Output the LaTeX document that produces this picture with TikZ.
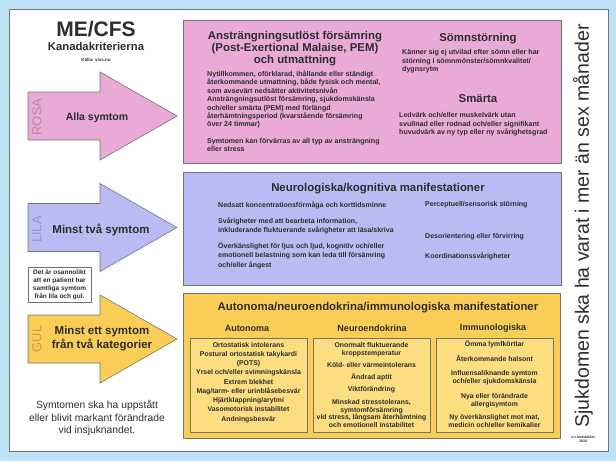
\documentclass[tikz,border=0pt]{standalone}
\usepackage{fontspec}
\setmainfont{Liberation Sans}
\usetikzlibrary{positioning}

\definecolor{bgblue}{RGB}{190,227,248}
\definecolor{rosafill}{RGB}{234,170,215}
\definecolor{lilafill}{RGB}{187,187,243}
\definecolor{gulfill}{RGB}{250,206,86}
\definecolor{gulsub}{RGB}{252,221,128}
\definecolor{framegray}{RGB}{115,115,115}
\definecolor{txt}{RGB}{45,45,45}
\definecolor{rosatag}{RGB}{178,138,162}
\definecolor{lilatag}{RGB}{148,148,198}
\definecolor{gultag}{RGB}{198,158,68}
\lineskiplimit=-100pt

\begin{document}
\begin{tikzpicture}[x=1pt, y=-1pt,
    panel/.style={draw=framegray, line width=0.6pt},
    critarrow/.style={draw=framegray, line width=0.6pt, line join=miter},
    heading/.style={font=\fontsize{11.4}{12}\selectfont\bfseries, text=txt, align=center, inner sep=0pt},
    subhead/.style={font=\fontsize{9}{10}\selectfont\bfseries, text=txt, inner sep=0pt},
    body/.style={font=\fontsize{7.1}{8.3}\selectfont\bfseries, text=txt, align=left, inner sep=0pt, anchor=north west},
    neurobody/.style={body, font=\fontsize{7}{9.3}\selectfont\bfseries},
    item/.style={font=\fontsize{6.9}{7.8}\selectfont\bfseries, text=txt, align=center, inner sep=0pt, anchor=north},
    tag/.style={font=\fontsize{13}{13}\selectfont, rotate=90, inner sep=0pt},
    arrowtext/.style={font=\fontsize{11.5}{14}\selectfont\bfseries, text=txt, align=center, inner sep=0pt}
]
\useasboundingbox (0,0) rectangle (616,461);
\fill[bgblue] (0,0) rectangle (616,461);
\draw[panel, fill=white] (9,9) rectangle (608,451);

% title block
\node[font=\fontsize{21}{22}\selectfont\bfseries, text=txt, inner sep=0pt] (title) at (96,29) {ME/CFS};
\node[font=\fontsize{11.3}{12}\selectfont\bfseries, text=txt, inner sep=0pt] (criteria) at (96,46.5) {Kanadakriterierna};
\node[font=\fontsize{4.5}{5}\selectfont\bfseries, text=txt, inner sep=0pt] (source) at (96,60) {Källa: viss.nu};

% arrows on the left
\foreach \ym/\col in {116/rosafill, 227.5/lilafill, 339/gulfill}
  \draw[critarrow, fill=\col] (28,{\ym-24}) -- (100,{\ym-24}) -- (100,{\ym-44}) -- (177,\ym)
    -- (100,{\ym+44}) -- (100,{\ym+24}) -- (28,{\ym+24}) -- cycle;

\node[tag, text=rosatag] (rosa) at (37,117) {ROSA};
\node[tag, text=lilatag] (lila) at (37,229.5) {LILA};
\node[tag, text=gultag] (gul) at (37,339) {GUL};

\node[arrowtext, font=\fontsize{10.5}{12}\selectfont\bfseries] (allsym) at (97,117.5) {Alla symtom};
\node[arrowtext] (twosym) at (101,230) {Minst två symtom};
\node[arrowtext] (onesym) at (102,338.5) {Minst ett symtom\\från två kategorier};

% note and onset text
\node[panel, font=\fontsize{6.5}{8}\selectfont\bfseries, text=txt, align=center,
      minimum width=63pt, minimum height=35pt, inner sep=0pt] (note) at (59.5,284.5)
      {Det är osannolikt\\att en patient har\\samtliga symtom\\från lila och gul.};
\node[font=\fontsize{10.3}{12.5}\selectfont, text=txt, align=center, inner sep=0pt] (onset) at (97,418)
      {Symtomen ska ha uppstått\\eller blivit markant förändrade\\vid insjuknandet.};

% rosa box
\draw[panel, fill=rosafill] (183,20) rectangle (561,163);
\node[heading] (pemhead) at (295,48.5) {Ansträngningsutlöst försämring\\(Post-Exertional Malaise, PEM)\\och utmattning};
\node[body] (fatigue) at (207,70.5) {Nytillkommen, oförklarad, ihållande eller ständigt\\återkommande utmattning, både fysisk och mental,\\som avsevärt nedsätter aktivitetsnivån};
\node[body] (pem) at (207,96.5) {Ansträngningsutlöst försämring, sjukdomskänsla\\och/eller smärta (PEM) med förlängd\\återhämtningsperiod (kvarstående försämring\\över 24 timmar)};
\node[body] (stress) at (207,138) {Symtomen kan förvärras av all typ av ansträngning\\eller stress};
\node[heading] (sleephead) at (478,39) {Sömnstörning};
\node[body] (sleep) at (402,49.5) {Känner sig ej utvilad efter sömn eller har\\störning i sömnmönster/sömnkvalitet/\\dygnsrytm};
\node[heading] (painhead) at (478,99) {Smärta};
\node[body] (pain) at (399,112.5) {Ledvärk och/eller muskelvärk utan\\svullnad eller rodnad och/eller signifikant\\huvudvärk av ny typ eller ny svårighetsgrad};

% lila box
\draw[panel, fill=lilafill] (183,172) rectangle (561,285);
\node[heading] (neurohead) at (378,189) {Neurologiska/kognitiva manifestationer};
\node[neurobody] (memory) at (218,201.5) {Nedsatt koncentrationsförmåga och korttidsminne};
\node[neurobody] (info) at (218,217.5) {Svårigheter med att bearbeta information,\\inkluderande fluktuerande svårigheter att läsa/skriva};
\node[neurobody] (sense) at (218,242.5) {Överkänslighet för ljus och ljud, kognitiv och/eller\\emotionell belastning som kan leda till försämring\\och/eller ångest};
\node[neurobody] (percept) at (425,201.5) {Perceptuell/sensorisk störning};
\node[neurobody] (confuse) at (425,233) {Desorientering eller förvirring};
\node[neurobody] (coord) at (425,253) {Koordinationssvårigheter};

% gul box
\draw[panel, fill=gulfill] (183,293) rectangle (560,438);
\node[heading] (autohead) at (378,308) {Autonoma/neuroendokrina/immunologiska manifestationer};
\node[subhead] (autocol) at (247,328) {Autonoma};
\node[subhead] (endocol) at (372,328) {Neuroendokrina};
\node[subhead] (immucol) at (493,328) {Immunologiska};
\draw[panel, fill=gulsub] (190,338) rectangle (307,432);
\draw[panel, fill=gulsub] (313,338) rectangle (430,432);
\draw[panel, fill=gulsub] (436,338) rectangle (553,432);
\node[item, font=\fontsize{6.9}{9.25}\selectfont\bfseries] (autolist) at (248.5,342) {Ortostatisk intolerans\\Postural ortostatisk takykardi\\(POTS)\\Yrsel och/eller svimningskänsla\\Extrem blekhet\\Mag/tarm- eller urinblåsebesvär\\Hjärtklappning/arytmi\\Vasomotorisk instabilitet\\Andningsbesvär};
\node[item] (endolist) at (371.5,342) {Onormalt fluktuerande\\kroppstemperatur\\[4.5pt]Köld- eller värmeintolerans\\[4.5pt]Ändrad aptit\\[4.5pt]Viktförändring\\[4.5pt]Minskad stresstolerans,\\symtomförsämring\\vid stress, långsam återhämtning\\och emotionell instabilitet};
\node[item] (immulist) at (494.5,340) {Ömma lymfkörtlar\\[7.5pt]Återkommande halsont\\[6.2pt]Influensaliknande symtom\\och/eller sjukdomskänsla\\[7.9pt]Nya eller förändrade\\allergisymtom\\[5.5pt]Ny överkänslighet mot mat,\\medicin och/eller kemikalier};

% right side
\node[font=\fontsize{19.5}{20}\selectfont, text=txt, rotate=90, inner sep=0pt] (duration) at (583,226) {Sjukdomen ska ha varat i mer än sex månader};
\node[font=\fontsize{3.6}{4.3}\selectfont\bfseries, text=txt, align=center, inner sep=0pt] (copyright) at (583,439) {© Livetsbilder\\2018};
\end{tikzpicture}
\end{document}
